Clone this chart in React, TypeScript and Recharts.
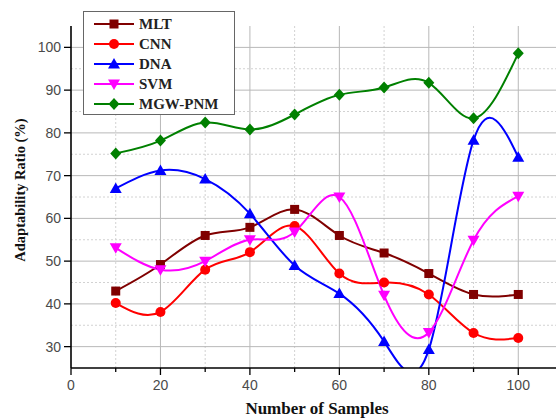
import { LineChart, Line, XAxis, YAxis, ReferenceLine, Label } from 'recharts';

// values
const samples = [10, 20, 30, 40, 50, 60, 70, 80, 90, 100];
const mlt = [43, 49.2, 56, 57.9, 62.1, 56, 51.9, 47.1, 42.2, 42.2];
const cnn = [40.2, 38.1, 48, 52.1, 58.2, 47.1, 45, 42.2, 33.2, 32];
const dna = [67, 71.2, 69.2, 61.1, 49, 42.4, 31.2, 29.3, 78.3, 74.3];
const svm = [53.1, 48, 50, 55, 56.8, 65, 42, 33.3, 54.9, 65.2];
const mgwPnm = [75.2, 78.2, 82.4, 80.8, 84.3, 88.9, 90.6, 91.7, 83.4, 98.6];

const xTicks = [0, 10, 20, 30, 40, 50, 60, 70, 80, 90, 100];
const yTicks = [30, 35, 40, 45, 50, 55, 60, 65, 70, 75, 80, 85, 90, 95, 100];
const xMajor = [20, 40, 60, 80, 100];
const xMinor = [10, 30, 50, 70, 90];
const yMajor = [30, 40, 50, 60, 70, 80, 90, 100];
const yMinor = [35, 45, 55, 65, 75, 85, 95];

const data = samples.map((s, i) => ({
  samples: s,
  mlt: mlt[i],
  cnn: cnn[i],
  dna: dna[i],
  svm: svm[i],
  mgw: mgwPnm[i],
}));

type Shape = 'square' | 'circle' | 'triangle' | 'down' | 'diamond';

const series: Array<{ key: string; name: string; color: string; shape: Shape }> = [
  { key: 'mlt', name: 'MLT', color: '#800000', shape: 'square' },
  { key: 'cnn', name: 'CNN', color: '#ff0000', shape: 'circle' },
  { key: 'dna', name: 'DNA', color: '#0000ff', shape: 'triangle' },
  { key: 'svm', name: 'SVM', color: '#ff00ff', shape: 'down' },
  { key: 'mgw', name: 'MGW-PNM', color: '#008000', shape: 'diamond' },
];

function Marker({ cx, cy, shape, color }: { cx: number; cy: number; shape: Shape; color: string }) {
  if (cx == null || cy == null) return null;
  switch (shape) {
    case 'square':
      return <rect x={cx - 4.5} y={cy - 4.5} width={9} height={9} fill={color} />;
    case 'circle':
      return <circle cx={cx} cy={cy} r={5} fill={color} />;
    case 'triangle':
      return <polygon points={`${cx},${cy - 6} ${cx - 6},${cy + 4.5} ${cx + 6},${cy + 4.5}`} fill={color} />;
    case 'down':
      return <polygon points={`${cx},${cy + 6} ${cx - 6},${cy - 4.5} ${cx + 6},${cy - 4.5}`} fill={color} />;
    default:
      return <polygon points={`${cx},${cy - 6} ${cx + 5.5},${cy} ${cx},${cy + 6} ${cx - 5.5},${cy}`} fill={color} />;
  }
}

const tickFont = { fontFamily: '"Liberation Sans", Arial, sans-serif', fontSize: 14, fill: '#4a4a4a' };
const titleFont = { fontFamily: '"Liberation Serif", "Times New Roman", serif', fontWeight: 700, fill: '#111' };

function YTick({ x, y, payload }: any) {
  const major = payload.value % 10 === 0;
  return (
    <g>
      <line x1={x + (major ? 3 : 6)} x2={x + 10} y1={y} y2={y} stroke="#000" strokeWidth={1.3} />
      {major && (
        <text x={x} y={y} dy={5} textAnchor="end" {...tickFont}>
          {payload.value}
        </text>
      )}
    </g>
  );
}

function XTick({ x, y, payload }: any) {
  const major = payload.value % 20 === 0;
  return (
    <g>
      <line x1={x} x2={x} y1={y - 10} y2={y - (major ? 3 : 6)} stroke="#000" strokeWidth={1.3} />
      {major && (
        <text x={x} y={y} dy={12} textAnchor="middle" {...tickFont}>
          {payload.value}
        </text>
      )}
    </g>
  );
}

function YTitle({ viewBox }: any) {
  const cx = 20;
  const cy = viewBox.y + viewBox.height / 2 - 7;
  return (
    <text
      x={cx}
      y={cy}
      transform={`rotate(-90 ${cx} ${cy})`}
      textAnchor="middle"
      dominantBaseline="central"
      fontSize={14.5}
      {...titleFont}
    >
      Adaptability Ratio (%)
    </text>
  );
}

function XTitle({ viewBox }: any) {
  return (
    <text x={viewBox.x + viewBox.width / 2} y={viewBox.y + 46} textAnchor="middle" fontSize={17} {...titleFont}>
      Number of Samples
    </text>
  );
}

function LegendBox() {
  return (
    <div
      style={{
        position: 'absolute',
        left: 83,
        top: 11,
        width: 150,
        height: 100,
        background: '#fff',
        border: '1px solid #666',
        padding: '2px 0 0 0',
      }}
    >
      {series.map((s) => (
        <div key={s.key} style={{ display: 'flex', alignItems: 'center', height: 20 }}>
          <svg width={52} height={20} style={{ flex: 'none' }}>
            <line x1={10} x2={50} y1={10} y2={10} stroke={s.color} strokeWidth={2.2} />
            <Marker cx={30} cy={10} shape={s.shape} color={s.color} />
          </svg>
          <span
            style={{
              fontFamily: '"Liberation Serif", "Times New Roman", serif',
              fontWeight: 700,
              fontSize: 15,
              color: '#222',
              marginLeft: 3,
            }}
          >
            {s.name}
          </span>
        </div>
      ))}
    </div>
  );
}

export default function App() {
  return (
    <div style={{ position: 'absolute', left: 0, top: 0, width: 556, height: 418, overflow: 'hidden', background: '#fff' }}>
      <LineChart width={570} height={418} data={data} margin={{ top: 26, right: 7, left: 0, bottom: 0 }}>
        {yMinor.map((v) => (
          <ReferenceLine key={`ym${v}`} y={v} stroke="#d2d2d2" strokeDasharray="2 2" />
        ))}
        {xMinor.map((v) => (
          <ReferenceLine key={`xm${v}`} x={v} stroke="#d2d2d2" strokeDasharray="2 2" />
        ))}
        {yMajor.map((v) => (
          <ReferenceLine key={`yM${v}`} y={v} stroke="#b8b8b8" />
        ))}
        {xMajor.map((v) => (
          <ReferenceLine key={`xM${v}`} x={v} stroke="#b8b8b8" />
        ))}
        <XAxis
          dataKey="samples"
          type="number"
          domain={[0, 110]}
          ticks={xTicks}
          height={50}
          tickSize={7}
          tickMargin={3}
          tickLine={false}
          tick={<XTick />}
          axisLine={{ stroke: '#000', strokeWidth: 1.6 }}
        >
          <Label content={<XTitle />} />
        </XAxis>
        <YAxis
          type="number"
          domain={[25, 105]}
          ticks={yTicks}
          width={71}
          tickSize={7}
          tickMargin={3}
          tickLine={false}
          tick={<YTick />}
          allowDataOverflow
          axisLine={{ stroke: '#000', strokeWidth: 1.6 }}
        >
          <Label content={<YTitle />} />
        </YAxis>
        {series.map((s) => (
          <Line
            key={s.key}
            type="natural"
            dataKey={s.key}
            name={s.name}
            stroke={s.color}
            strokeWidth={2}
            dot={(p: any) => <Marker key={`${s.key}-${p.index}`} cx={p.cx} cy={p.cy} shape={s.shape} color={s.color} />}
            activeDot={false}
            isAnimationActive={false}
          />
        ))}
      </LineChart>
      <LegendBox />
    </div>
  );
}
